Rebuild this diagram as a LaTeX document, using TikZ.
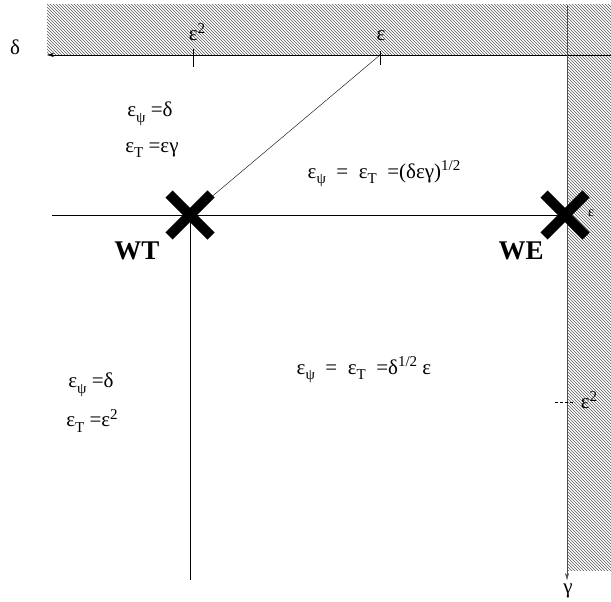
\documentclass[tikz,border=0pt]{standalone}
\usepackage{fontspec}
\setmainfont{Liberation Serif}
\usetikzlibrary{patterns,shapes.misc,arrows.meta}

\newcommand{\lo}[1]{\raisebox{-0.6ex}{\fontsize{15}{15}\selectfont #1}}
\newcommand{\hi}[1]{\raisebox{0.75ex}{\fontsize{15}{15}\selectfont #1}}

\begin{document}
\begin{tikzpicture}[x=1pt, y=-1pt,
  every node/.style = {inner sep=0pt, font=\fontsize{21}{25}\selectfont},
  bigtag/.style = {font=\fontsize{27}{31}\selectfont\bfseries},
  hatch/.style = {pattern=north west lines, pattern color=black!65},
  mark x/.style = {cross out, draw, line width=10pt, minimum size=32pt},
  axis/.style = {thin, -{Stealth[length=7pt,width=4pt]}}]
  \useasboundingbox (0,0) rectangle (611,602);
  % forbidden regions
  \fill[hatch] (47,5) rectangle (611,55);
  \fill[hatch] (567,55) rectangle (611,570);
  % axes
  \coordinate (corner) at (567,55);
  \coordinate (dend) at (47,55);
  \coordinate (gend) at (567,580);
  \draw[axis] (611,55) -- (dend);
  \draw[axis, black!70] (567,5) -- (gend);
  % ticks
  \coordinate (t2) at (193,55);
  \coordinate (t1) at (380,55);
  \coordinate (r2) at (567,402);
  \draw (t2) ++(0,-6) -- ++(0,18);
  \draw (t1) ++(0,-4) -- ++(0,14);
  \draw[densely dashed] (r2) ++(-12,0) -- ++(20,0);
  % the two marks
  \node[mark x] (wt) at (190,215) {};
  \node[mark x] (we) at (565,215) {};
  \coordinate (left) at (52,215);
  \coordinate (bottom) at (190,580);
  \draw (left) -- (we.center);
  \draw (wt.center) -- (bottom);
  \draw (t1) -- (wt.center);
  % axis labels
  \node (delta) at (15,47) {δ};
  \node (gamma) at (568,591) {γ};
  \node (lt2) at (197,32) {ε\hi{2}};
  \node (lt1) at (381,36) {ε};
  \node (lr2) at (589,400) {ε\hi{2}};
  \node (lwe) at (591,213) {\fontsize{14}{14}\selectfont ε};
  % names
  \node[bigtag] (nwt) at (137,251) {WT};
  \node[bigtag] (nwe) at (521,251) {WE};
  % regimes
  \node (a1) at (150,114) {ε\lo{ψ} =δ};
  \node (a2) at (152,150) {ε\lo{T} =εγ};
  \node (b1) at (384,174) {ε\lo{ψ}\enspace=\enspace ε\lo{T}\enspace =(δεγ)\hi{1/2}};
  \node (c1) at (91,385) {ε\lo{ψ} =δ};
  \node (c2) at (92,421) {ε\lo{T} =ε\hi{2}};
  \node (d1) at (364,370) {ε\lo{ψ}\enspace=\enspace ε\lo{T}\enspace =δ\hi{1/2} ε};
\end{tikzpicture}
\end{document}
